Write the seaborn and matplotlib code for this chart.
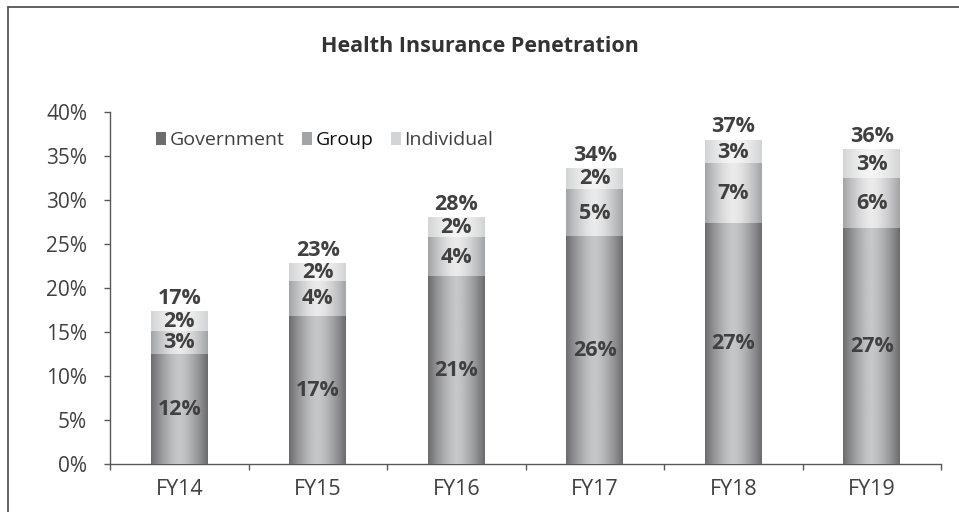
import numpy as np
import pandas as pd
import matplotlib
matplotlib.use("Agg")
import matplotlib.pyplot as plt
import matplotlib.patches as mpatches
from matplotlib.lines import Line2D
from matplotlib.colors import LinearSegmentedColormap
import seaborn as sns

# Values (% of population)
YEARS = ["FY14", "FY15", "FY16", "FY17", "FY18", "FY19"]
GOVERNMENT = [12.4, 16.8, 21.3, 25.8, 27.3, 26.8]
GROUP = [2.7, 3.9, 4.4, 5.4, 6.8, 5.6]
INDIVIDUAL = [2.2, 2.1, 2.3, 2.4, 2.7, 3.3]

SERIES = ["Government", "Group", "Individual"]
# (edge colour, centre colour) of the horizontal bar gradient
SHADES = {
    "Government": ("#6c6c6e", "#c6c7c9"),
    "Group":      ("#a3a4a6", "#ebebec"),
    "Individual": ("#d3d4d5", "#f5f5f5"),
}
TEXT = "#404040"
BAR_W = 0.41

sns.set_style("white")
plt.rcParams["font.family"] = ["Open Sans", "DejaVu Sans"]

df = pd.DataFrame({
    "year": YEARS,
    "Government": GOVERNMENT,
    "Group": GROUP,
    "Individual": INDIVIDUAL,
})
df["cum_gov"] = df["Government"]
df["cum_group"] = df["cum_gov"] + df["Group"]
df["total"] = df["cum_group"] + df["Individual"]

fig = plt.figure(figsize=(9.59, 5.12), dpi=100)
ax = fig.add_axes([110 / 959, 48 / 512, 831 / 959, 352 / 512])

t = np.linspace(-1, 1, 80)
grad = (1 - np.abs(t) ** 1.5).reshape(1, -1)

# stack by overlaying cumulative heights, tallest first
layers = [("total", "Individual", 2), ("cum_group", "Group", 3), ("cum_gov", "Government", 4)]
for col, name, z in layers:
    n0 = len(ax.patches)
    sns.barplot(data=df, x="year", y=col, order=YEARS, color=SHADES[name][1],
                width=BAR_W, ax=ax, errorbar=None)
    cmap = LinearSegmentedColormap.from_list(name, list(SHADES[name]))
    for p in ax.patches[n0:]:
        x0, y0, w, h = p.get_x(), p.get_y(), p.get_width(), p.get_height()
        p.set_facecolor("none")
        p.set_edgecolor("none")
        ax.imshow(grad, extent=[x0, x0 + w, y0, y0 + h], aspect="auto",
                  cmap=cmap, vmin=0, vmax=1, zorder=z, interpolation="bilinear")

# segment labels
for i, row in df.iterrows():
    bottoms = [0, row["cum_gov"], row["cum_group"]]
    for name, b in zip(SERIES, bottoms):
        v = row[name]
        ax.text(i, b + v / 2, f"{v:.0f}%", ha="center", va="center",
                fontsize=15.5, fontweight="bold", color=TEXT, zorder=6)
    ax.annotate(f"{row['total']:.0f}%", xy=(i, row["total"]), xytext=(0, 2),
                textcoords="offset points", ha="center", va="bottom",
                fontsize=15.5, fontweight="bold", color=TEXT, zorder=6)

ax.set_xlim(-0.5, len(YEARS) - 0.5)
ax.set_ylim(0, 40)
ax.set_yticks(range(0, 41, 5))
ax.set_yticklabels([f"{v}%" for v in range(0, 41, 5)])
ax.set_xlabel("")
ax.set_ylabel("")

for s in ["top", "right"]:
    ax.spines[s].set_visible(False)
for s in ["left", "bottom"]:
    ax.spines[s].set_color("#595959")
    ax.spines[s].set_linewidth(1.0)

ax.tick_params(axis="y", which="major", left=True, length=4.5, width=1.0,
               color="#595959", labelsize=15, labelcolor=TEXT, pad=12)
ax.tick_params(axis="x", which="major", length=0, labelsize=15.5,
               labelcolor=TEXT, pad=11)
ax.set_xticks(np.arange(-0.5, len(YEARS)), minor=True)
ax.tick_params(axis="x", which="minor", bottom=True, length=4.5, width=1.0,
               color="#595959")

handles = [mpatches.Patch(facecolor=SHADES[n][0], edgecolor="none", label=n)
           for n in SERIES]
leg = ax.legend(handles=handles, loc="center left", bbox_to_anchor=(0.046, 0.92),
                ncol=3, frameon=False, fontsize=14, handlelength=0.5,
                handleheight=0.65, handletextpad=0.2, columnspacing=0.9,
                borderaxespad=0)
for txt, n in zip(leg.get_texts(), SERIES):
    txt.set_color("#111111" if n == "Group" else TEXT)

fig.text(480 / 959, 1 - 47 / 512, "Health Insurance Penetration", ha="center",
         va="center", fontsize=15.5, fontweight="bold", color="#333333")

# outer frame (left and top edges visible in the crop)
fig.add_artist(Line2D([7.5 / 959, 7.5 / 959], [0, 1 - 6.5 / 512],
                      transform=fig.transFigure, color="#555555", lw=1.3))
fig.add_artist(Line2D([7.5 / 959, 1], [1 - 6.5 / 512, 1 - 6.5 / 512],
                      transform=fig.transFigure, color="#555555", lw=1.3))

fig.savefig("out.png", dpi=100)
